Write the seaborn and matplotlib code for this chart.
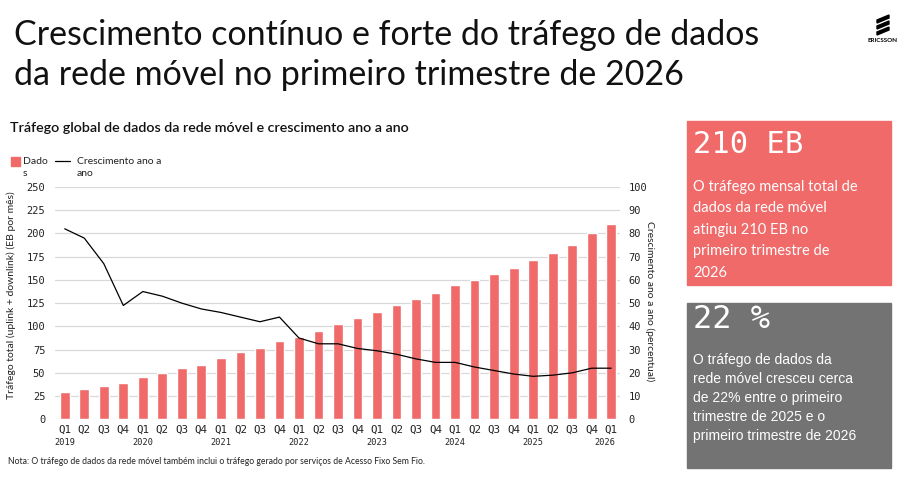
import numpy as np
import pandas as pd
import seaborn as sns
import matplotlib.pyplot as plt
from matplotlib.patches import Rectangle, Polygon

### DATA
quarters = ['Q1', 'Q2', 'Q3', 'Q4'] * 7 + ['Q1']
years = ['2019', '2020', '2021', '2022', '2023', '2024', '2025', '2026']
dados = [29, 33, 36, 39, 45, 50, 55, 58, 66, 72, 77, 84, 89, 95, 103, 109,
         116, 123, 130, 136, 144, 150, 156, 163, 171, 179, 188, 201, 210]
crescimento = [82, 78, 67, 49, 55, 53, 50, 47.5, 46, 44, 42, 44, 35, 32.5, 32.5,
               30.5, 29.5, 28, 26, 24.5, 24.5, 22.5, 21, 19.5, 18.5, 19, 20, 22, 22]
left_ticks = [0, 25, 50, 75, 100, 125, 150, 175, 200, 225, 250]
right_ticks = [0, 10, 20, 30, 40, 50, 60, 70, 80, 90, 100]

title_lines = ['Crescimento contínuo e forte do tráfego de dados',
               'da rede móvel no primeiro trimestre de 2026']
subtitle = 'Tráfego global de dados da rede móvel e crescimento ano a ano'
nota = ('Nota: O tráfego de dados da rede móvel também inclui o tráfego gerado '
        'por serviços de Acesso Fixo Sem Fio.')
box1_head = '210 EB'
box1_lines = ['O tráfego mensal total de', 'dados da rede móvel',
              'atingiu 210 EB no', 'primeiro trimestre de', '2026']
box2_head = '22 %'
box2_lines = ['O tráfego de dados da', 'rede móvel cresceu cerca',
              'de 22% entre o primeiro', 'trimestre de 2025 e o',
              'primeiro trimestre de 2026']

RED = '#F06A6A'
GRAY = '#737373'
W, H = 916, 480
TXT = ['Lato', 'DejaVu Sans']
MONO = ['DejaVu Sans Mono']

sns.set_theme(style='white')
plt.rcParams['font.family'] = TXT


def fx(x):
    return x / W


def fy(y):
    return 1 - y / H


df = pd.DataFrame({'pos': np.arange(len(dados)), 'dados': dados,
                   'crescimento': crescimento})

fig = plt.figure(figsize=(W / 100, H / 100), dpi=100)
ax = fig.add_axes([fx(55), fy(419.3), fx(565), 232.3 / H])

sns.barplot(data=df, x='pos', y='dados', color=RED, saturation=1,
            width=0.5, ax=ax)
ax.set_ylim(0, 250)
ax.set_xlim(-0.5, 28.45)
ax.set_yticks(left_ticks)
ax.set_yticklabels([str(t) for t in left_ticks], family=MONO, fontsize=7.5)
ax.set_xticks(df['pos'])
ax.set_xticklabels(quarters, family=MONO, fontsize=7.8, color='#222222')
ax.tick_params(axis='y', length=0, pad=7, colors='#222222')
ax.tick_params(axis='x', length=0, pad=4)
ax.grid(axis='y', color='#d9d9d9', lw=0.9)
ax.set_axisbelow(True)
for s in ax.spines.values():
    s.set_visible(False)
ax.set_xlabel('')
ax.set_ylabel('Tráfego total (uplink + downlink) (EB por mês)', fontsize=7.5,
              color='#222222')
ax.yaxis.set_label_coords(-0.069, 0.535)

# year labels under each Q1
for i, yr in enumerate(years):
    ax.text(i * 4 - (0.35 if i == len(years) - 1 else 0), -0.102, yr,
            transform=ax.get_xaxis_transform(), ha='center', va='center',
            family=MONO, fontsize=6.2, color='#222222')

ax2 = ax.twinx()
sns.lineplot(data=df, x='pos', y='crescimento', color='black', lw=0.9, ax=ax2)
ax2.set_ylim(0, 100)
ax2.set_yticks(right_ticks)
ax2.set_yticklabels([str(t) for t in right_ticks], family=MONO, fontsize=7.5)
ax2.tick_params(axis='y', length=0, pad=6, colors='#222222')
for s in ax2.spines.values():
    s.set_visible(False)
ax2.grid(False)
ax2.set_ylabel('Crescimento ano a ano (percentual)', fontsize=7.5,
               color='#222222', rotation=270)
ax2.yaxis.set_label_coords(1.062, 0.51)

# legend drawn by hand to mimic the wrapped labels
fig.add_artist(Rectangle((fx(11), fy(166)), fx(9), 9 / H, color=RED,
                         transform=fig.transFigure))
fig.text(fx(23), fy(161), 'Dado', fontsize=7.5, va='center', color='#222222')
fig.text(fx(23), fy(173), 's', fontsize=7.5, va='center', color='#222222')
fig.add_artist(plt.Line2D([fx(55), fx(70)], [fy(161), fy(161)], color='black',
                          lw=0.9, transform=fig.transFigure))
fig.text(fx(77), fy(161), 'Crescimento ano a', fontsize=7.5, va='center',
         color='#222222')
fig.text(fx(77), fy(173), 'ano', fontsize=7.5, va='center', color='#222222')

# titles
fig.text(fx(14), fy(35), title_lines[0], fontsize=24.5, fontweight='normal',
         va='center', color='#111111')
fig.text(fx(14), fy(75), title_lines[1], fontsize=24.5, fontweight='normal',
         va='center', color='#111111')
fig.text(fx(10), fy(128), subtitle, fontsize=10.3, fontweight='semibold',
         va='center', color='#111111')
fig.text(fx(8), fy(462), nota, fontsize=6.2, va='center', color='#222222')

# right-hand boxes
fig.add_artist(Rectangle((fx(687), fy(285)), fx(204), 164 / H, color=RED,
                         transform=fig.transFigure))
fig.add_artist(Rectangle((fx(687), fy(468)), fx(204), 165 / H, color=GRAY,
                         transform=fig.transFigure))
fig.text(fx(693), fy(145), box1_head, fontsize=22, color='white', va='center',
         family=MONO)
for i, line in enumerate(box1_lines):
    fig.text(fx(693), fy(187 + i * 21.5), line, fontsize=10.5, color='white',
             va='center')
fig.text(fx(693), fy(320), box2_head, fontsize=23, color='white', va='center',
         family=MONO)
for i, line in enumerate(box2_lines):
    fig.text(fx(693), fy(360 + i * 19), line, fontsize=10, color='white',
             va='center', family=['Liberation Sans'])

# Ericsson mark
for yb in (17, 23, 29):
    fig.add_artist(Polygon([(fx(877), fy(yb + 3)), (fx(889), fy(yb - 2)),
                            (fx(889), fy(yb + 1)), (fx(877), fy(yb + 6))],
                           closed=True, color='black',
                           transform=fig.transFigure))
fig.text(fx(883), fy(41), 'ERICSSON', fontsize=4.5, fontweight='bold',
         ha='center', va='center', color='black')

fig.savefig('out.png', dpi=100)
